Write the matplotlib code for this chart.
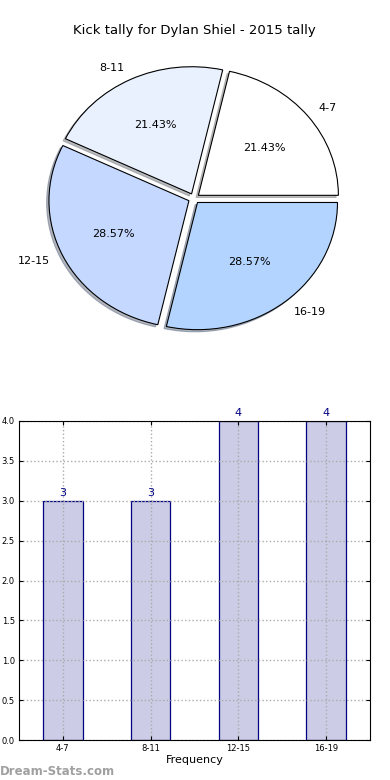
import matplotlib
matplotlib.use('Agg')
import matplotlib.pyplot as plt
import numpy as np

# data
categories = ["4-7", "8-11", "12-15", "16-19"]
counts = [3, 3, 4, 4]
pie_colors = ["#ffffff", "#eaf1fe", "#c5d8ff", "#b3d4ff"]
title = "Kick tally for Dylan Shiel - 2015 tally"

fig = plt.figure(figsize=(3.9, 7.8), dpi=100)

# pie (elliptical, like the old matplotlib default without equal aspect)
ax1 = fig.add_axes([(194 - 175) / 390, (780 - 198.5 - 159) / 780, 350 / 390, 318 / 780])
ax1.pie(counts, labels=categories, colors=pie_colors, explode=[0.04] * 4,
        autopct="%.2f%%", shadow=dict(ox=-0.012, oy=-0.012, shade=0.5),
        startangle=0,
        wedgeprops=dict(edgecolor="black", linewidth=0.8),
        textprops=dict(fontsize=8))
ax1.set_aspect("auto")
ax1.set_xlim(-1.25, 1.25)
ax1.set_ylim(-1.25, 1.25)
ax1.set_title(title, fontsize=9.5, pad=4)

# bar chart
ax2 = fig.add_axes([19 / 390, 40 / 780, 351 / 390, 319 / 780])
x = np.arange(len(categories))
bars = ax2.bar(x, counts, width=0.45, color="#ccccE6", edgecolor="navy", linewidth=0.9)
for xi, c in zip(x, counts):
    ax2.text(xi, c + 0.04, str(c), ha="center", va="bottom", color="navy", fontsize=8)
ax2.set_xlim(-0.5, 3.5)
ax2.set_ylim(0, 4.0)
ax2.set_yticks(np.arange(0, 4.01, 0.5))
ax2.set_xticks(x)
ax2.set_xticklabels(categories)
ax2.tick_params(labelsize=6, direction="in", top=True, right=True, length=3, pad=3)
ax2.grid(True, linestyle=":", color="#aaaaaa", linewidth=1)
ax2.set_axisbelow("line")
ax2.set_xlabel("Frequency", fontsize=8, labelpad=1)

fig.text(0.0, 0.003, "Dream-Stats.com", fontsize=8.5, color="#a0a0a0",
         fontweight="bold", ha="left", va="bottom")

plt.savefig("out.png", dpi=100)
